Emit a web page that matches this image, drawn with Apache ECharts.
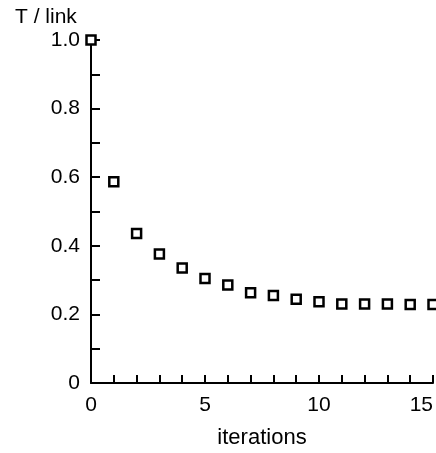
<!DOCTYPE html>
<html>
<head>
<meta charset="utf-8">
<script src="https://cdn.jsdelivr.net/npm/echarts@6/dist/echarts.min.js"></script>
<style>
  html, body { margin: 0; padding: 0; background: #fff; }
  #chart { width: 436px; height: 453px; }
</style>
</head>
<body>
<div id="chart"></div>
<script>
// iteration number vs T / link
const iterations = [0, 1, 2, 3, 4, 5, 6, 7, 8, 9, 10, 11, 12, 13, 14, 15]
const tPerLink = [1.0, 0.587, 0.436, 0.376, 0.335, 0.305, 0.286, 0.263, 0.255, 0.244, 0.237, 0.230, 0.230, 0.230, 0.229, 0.229]
const xTicks = [0, 5, 10, 15]
const yTicks = [0, 0.2, 0.4, 0.6, 0.8, 1.0]

const font = 'Liberation Sans'
const chart = echarts.init(document.getElementById('chart'))

chart.setOption({
  animation: false,
  grid: { left: 91, right: 3, top: 40, bottom: 70, outerBoundsMode: 'none', containLabel: false },
  title: {
    text: 'T / link',
    left: 10, top: 2,
    textStyle: { fontFamily: font, fontSize: 21, fontWeight: 'normal', color: '#000' }
  },
  xAxis: {
    type: 'value',
    min: 0, max: 15, interval: 5,
    name: 'iterations',
    nameLocation: 'middle',
    nameGap: 44,
    nameTextStyle: { fontFamily: font, fontSize: 22, color: '#000' },
    axisLine: { lineStyle: { color: '#000', width: 2 } },
    axisTick: { inside: true, length: 8, lineStyle: { color: '#000', width: 2 } },
    minorTick: { show: true, splitNumber: 5, length: 8, lineStyle: { color: '#000', width: 2 } },
    axisLabel: {
      fontFamily: font, fontSize: 21, color: '#000', margin: 12,
      alignMaxLabel: 'right',
      formatter: v => xTicks.includes(v) ? String(v) : ''
    },
    splitLine: { show: false }
  },
  yAxis: {
    type: 'value',
    min: 0, max: 1.0, interval: 0.2,
    axisLine: { show: true, lineStyle: { color: '#000', width: 2 } },
    axisTick: { show: true, inside: true, length: 9, lineStyle: { color: '#000', width: 2 } },
    minorTick: { show: true, splitNumber: 2, length: 9, lineStyle: { color: '#000', width: 2 } },
    axisLabel: {
      fontFamily: font, fontSize: 21, color: '#000', margin: 11,
      formatter: v => {
        const t = yTicks.find(y => Math.abs(y - v) < 1e-6)
        if (t === undefined) return ''
        return t === 0 ? '0' : t.toFixed(1)
      }
    },
    splitLine: { show: false }
  },
  series: [{
    type: 'scatter',
    data: iterations.map((x, i) => [x, tPerLink[i]]),
    symbol: 'rect',
    symbolSize: 9,
    itemStyle: { color: '#fff', borderColor: '#000', borderWidth: 2.5, opacity: 1 },
    clip: false
  }]
})
</script>
</body>
</html>
